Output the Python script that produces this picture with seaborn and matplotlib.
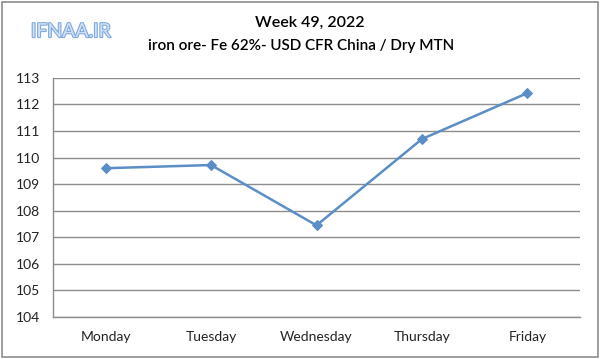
import pandas as pd
import numpy as np
import matplotlib.pyplot as plt
import seaborn as sns
import matplotlib.patheffects as pe

# Weekly prices
days = ['Monday', 'Tuesday', 'Wednesday', 'Thursday', 'Friday']
prices = [109.6, 109.72, 107.45, 110.7, 112.43]
y_ticks = [104, 105, 106, 107, 108, 109, 110, 111, 112, 113]

df = pd.DataFrame({'Day': days, 'Price': prices})

sns.set_style("white")
plt.rcParams['font.family'] = ['Lato', 'DejaVu Sans']

fig = plt.figure(figsize=(6, 3.59), dpi=100)
ax = fig.add_axes([0.088, 0.117, 0.879, 0.666])

sns.lineplot(data=df, x='Day', y='Price', ax=ax, color='#5B8DC6', linewidth=1.8,
             marker='D', markersize=5, markeredgecolor='#5B8DC6', sort=False)

ax.set_ylim(104, 113)
ax.set_yticks(y_ticks)
ax.set_xlim(-0.5, 4.5)
ax.set_xticks(range(len(days)))
ax.set_xticklabels(days)
ax.set_xticks(np.arange(-0.5, 5, 1), minor=True)
ax.grid(axis='y', color='#8c8c8c', linewidth=1)
ax.set_axisbelow(True)
ax.set_xlabel('')
ax.set_ylabel('')

for side in ['top', 'right']:
    ax.spines[side].set_visible(False)
for side in ['left', 'bottom']:
    ax.spines[side].set_color('#8c8c8c')
    ax.spines[side].set_linewidth(1)

ax.tick_params(axis='x', which='major', length=0, pad=10, labelsize=10)
ax.tick_params(axis='x', which='minor', length=5, color='#8c8c8c', direction='out')
ax.tick_params(axis='y', length=5, color='#8c8c8c', direction='out', labelsize=10, pad=4)
ax.tick_params(axis='both', labelcolor='#222222')

fig.text(0.517, 0.935, 'Week 49, 2022', ha='center', va='center', fontsize=11.5,
         fontweight='semibold', color='#000000')
fig.text(0.502, 0.873, 'iron ore- Fe 62%- USD CFR China / Dry MTN', ha='center',
         va='center', fontsize=11, fontweight='semibold', color='#000000')
fig.text(0.118, 0.912, 'IFNAA.IR', ha='center', va='center', fontsize=14,
         color='#cfe0f5',
         path_effects=[pe.withStroke(linewidth=1.5, foreground='#7aa6da')])

fig.patches.append(plt.Rectangle((0.004, 0.006), 0.992, 0.988, transform=fig.transFigure,
                                 fill=False, edgecolor='#8c8c8c', linewidth=1.2))

plt.savefig('out.png', dpi=100)
